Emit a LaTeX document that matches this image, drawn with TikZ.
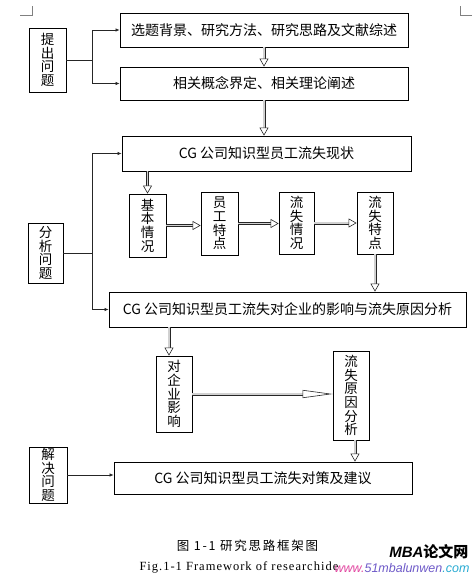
\documentclass[tikz,border=0pt]{standalone}
\usepackage{fontspec}
\setmainfont{Liberation Serif}
\newfontfamily\cjk{Noto Sans CJK SC}
\newfontfamily\capcjk[LetterSpace=14]{Noto Sans CJK SC}
\newfontfamily\capfont[LetterSpace=8]{Liberation Serif}
\newfontfamily\markfont{Liberation Sans}
\usetikzlibrary{arrows.meta}
\definecolor{line}{gray}{0.15}
\definecolor{shaft}{gray}{0.82}
\definecolor{urlpink}{RGB}{225, 70, 160}
\definecolor{urlblue}{RGB}{110, 90, 200}
\definecolor{urlcyan}{RGB}{40, 170, 210}

\tikzset{
  box/.style={draw, line width=0.8pt, inner sep=0pt, font=\cjk\fontsize{14}{16}\selectfont},
  vbox/.style={draw, line width=0.8pt, inner sep=0pt, align=center,
               font=\cjk\fontsize{13.5}{13.6}\selectfont},
  thin arrow/.style={line width=0.7pt, color=line, -{Latex[length=4pt, width=3.5pt]}},
  block arrow/.style={line width=0.6pt, color=line, double=shaft, double distance=1.8pt,
                      -{Triangle[open, length=8pt, width=9pt, fill=white]}},
  long arrow/.style={block arrow, -{Triangle[open, length=30pt, width=8pt, fill=white]}}
}

\begin{document}
\begin{tikzpicture}[x=1pt, y=-1pt]
  \useasboundingbox (0, 0) rectangle (476, 583);

  % page corner marks
  \draw [color=gray, line width=0.6pt] (20, 15) -- (32, 15) -- (32, 6);
  \draw [color=gray, line width=0.6pt] (472, 15) -- (460, 15) -- (460, 6);

  % left column
  \node [vbox, minimum width=37, minimum height=64] (tichu) at (47.5, 60) {提\\出\\问\\题};
  \node [vbox, minimum width=35, minimum height=60] (fenxi) at (45.5, 253) {分\\析\\问\\题};
  \node [vbox, minimum width=38, minimum height=56] (jiejue) at (48, 475) {解\\决\\问\\题};

  % wide boxes
  \node [box, minimum width=288, minimum height=34] (beijing) at (264, 30)
    {选题背景、研究方法、研究思路及文献综述};
  \node [box, minimum width=288, minimum height=33] (lilun) at (264, 83.5)
    {相关概念界定、相关理论阐述};
  \node [box, minimum width=289, minimum height=35] (xianzhuang) at (266.5, 153.5)
    {CG 公司知识型员工流失现状};
  \node [box, minimum width=357, minimum height=35] (fenxibox) at (287.5, 309.5)
    {CG 公司知识型员工流失对企业的影响与流失原因分析};
  \node [box, minimum width=298, minimum height=32] (duice) at (263, 478)
    {CG 公司知识型员工流失对策及建议};

  % small boxes
  \node [vbox, minimum width=37, minimum height=63] (jiben) at (147.5, 225.5) {基\\本\\情\\况};
  \node [vbox, minimum width=37, minimum height=63] (yuangong) at (219.5, 223.5) {员\\工\\特\\点};
  \node [vbox, minimum width=35, minimum height=62] (liushiqk) at (296.5, 223) {流\\失\\情\\况};
  \node [vbox, minimum width=36, minimum height=62] (liushitd) at (375, 223) {流\\失\\特\\点};
  \node [vbox, minimum width=36, minimum height=76] (yingxiang) at (174, 394) {对\\企\\业\\影\\响};
  \node [vbox, minimum width=36, minimum height=89] (yuanyin) at (351, 395.5) {流\\失\\原\\因\\分\\析};

  % thin connectors from the left column
  \draw [line width=0.7pt, color=line] (tichu.east) -- (92, 60) coordinate (tsplit);
  \draw [thin arrow] (tsplit) |- (beijing.west);
  \draw [thin arrow] (tsplit) |- (lilun.west);
  \draw [line width=0.7pt, color=line] (fenxi.east) -- (92, 253) coordinate (fsplit);
  \draw [thin arrow] (fsplit) |- (xianzhuang.west);
  \draw [thin arrow] (fsplit) |- (fenxibox.west);
  \draw [thin arrow] (jiejue.east) -- (jiejue.east -| duice.west);

  % block arrows
  \draw [block arrow] (beijing.south) -- (lilun.north);
  \draw [block arrow] (lilun.south) -- (lilun.south |- xianzhuang.north);
  \draw [block arrow] (jiben.north |- xianzhuang.south) -- (jiben.north);
  \draw [block arrow] (jiben.east) -- (jiben.east -| yuangong.west);
  \draw [block arrow] (yuangong.east) -- (yuangong.east -| liushiqk.west);
  \draw [block arrow] (liushiqk.east) -- (liushiqk.east -| liushitd.west);
  \draw [block arrow] (liushitd.south) -- (liushitd.south |- fenxibox.north);
  \draw [block arrow] ([xshift=-5]yingxiang.north |- fenxibox.south) -- ([xshift=-5]yingxiang.north);
  \draw [long arrow] (yingxiang.east) -- (yingxiang.east -| yuanyin.west);
  \draw [block arrow] ([xshift=4]yuanyin.south) -- ([xshift=4]yuanyin.south |- duice.north);

  % caption
  \node (capcn) at (247.5, 546) {\capcjk\fontsize{12.5}{14}\selectfont 图 1-1 研究思路框架图};
  \node [anchor=west] (capen) at (136, 567) {\capfont\fontsize{12.5}{14}\selectfont Fig.1-1 Framework of researchide};
  \node [anchor=east] (mark) at (472, 552)
    {\markfont\bfseries\itshape\fontsize{15}{17}\selectfont MBA\cjk\bfseries 论文网};
  \node [anchor=east] (url) at (473, 568)
    {\markfont\itshape\fontsize{12.5}{14}\selectfont
     \textcolor{urlpink}{www.}\textcolor{urlblue}{51mbalunwen}\textcolor{urlcyan}{.com}};
\end{tikzpicture}
\end{document}
